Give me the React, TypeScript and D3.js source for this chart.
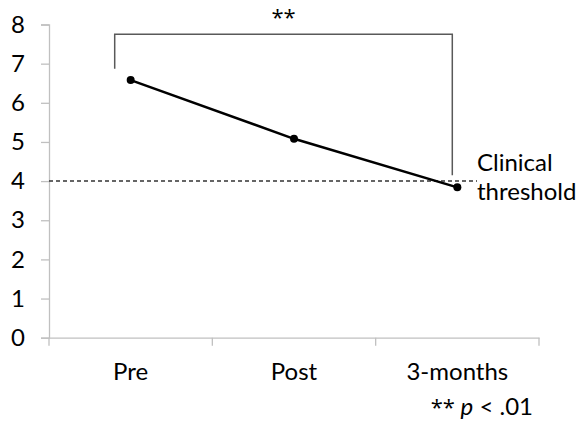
import React, { useEffect, useRef } from "react";
import * as d3 from "d3";

const categories = ["Pre", "Post", "3-months"];
const values = [6.58, 5.08, 3.84];
const yTicks = [0, 1, 2, 3, 4, 5, 6, 7, 8];
const threshold = 4;
const thresholdLabel = ["Clinical", "threshold"];
const sigLabel = "**";
const bracketY = 7.75;
const bracketLeftY = 6.87;
const bracketRightY = 4.15;

export default function App() {
  const svgRef = useRef<SVGSVGElement>(null);

  useEffect(() => {
    if (!svgRef.current) return;
    const W = 583, H = 424;
    const font = "Lato, 'Open Sans', sans-serif";
    const fs = "24px";
    const svg = d3.select(svgRef.current);
    svg.selectAll("*").remove();

    const left = 49, right = 539, top = 24.5, bottom = 337.7;

    const x = d3.scaleBand<string>().domain(categories).range([left, right]);
    const y = d3.scaleLinear().domain([0, 8]).range([bottom, top]);
    const cx = (c: string) => (x(c) || 0) + x.bandwidth() / 2;

    const axisColor = "#c0c0c0";

    // y axis
    const yAxis = svg.append("g").attr("transform", `translate(${left},0)`)
      .call(d3.axisLeft(y).tickValues(yTicks).tickSize(8).tickPadding(16).tickFormat(d3.format("d")));
    yAxis.select(".domain").attr("stroke", axisColor).attr("stroke-width", 1.3);
    yAxis.selectAll("line").attr("stroke", axisColor).attr("stroke-width", 1.3);
    yAxis.selectAll("text").attr("fill", "#000").style("font-family", font).style("font-size", fs);

    // x axis
    const xAxis = svg.append("g").attr("transform", `translate(0,${bottom})`)
      .call(d3.axisBottom(x).tickSize(0).tickSizeOuter(0).tickPadding(25));
    xAxis.select(".domain").attr("stroke", axisColor).attr("stroke-width", 1.3);
    xAxis.selectAll("text").attr("fill", "#000").style("font-family", font).style("font-size", fs);
    // boundary ticks between bands
    const bounds = [left, ...categories.map(c => (x(c) || 0) + x.bandwidth())];
    svg.append("g").selectAll("line").data(bounds).join("line")
      .attr("x1", d => d).attr("x2", d => d)
      .attr("y1", bottom).attr("y2", bottom + 8)
      .attr("stroke", axisColor).attr("stroke-width", 1.3);

    // threshold
    svg.append("line")
      .attr("x1", left).attr("x2", 477)
      .attr("y1", y(threshold)).attr("y2", y(threshold))
      .attr("stroke", "#333").attr("stroke-width", 1.5).attr("stroke-dasharray", "4,3");
    svg.append("text").attr("x", 477).attr("y", 171)
      .style("font-family", font).style("font-size", fs).attr("fill", "#000")
      .selectAll("tspan").data(thresholdLabel).join("tspan")
      .attr("x", 477).attr("dy", (_, i) => i === 0 ? 0 : 29).text(d => d);

    // bracket
    const bx1 = 114.7, bx2 = 452.3;
    svg.append("path")
      .attr("d", `M${bx1},${y(bracketLeftY)}V${y(bracketY)}H${bx2}V${y(bracketRightY)}`)
      .attr("fill", "none").attr("stroke", "#595959").attr("stroke-width", 1.5);
    svg.append("text").attr("x", (bx1 + bx2) / 2).attr("y", 25)
      .attr("text-anchor", "middle").style("font-family", "'Open Sans', sans-serif").style("font-size", "22px")
      .text(sigLabel);

    // line + dots
    const line = d3.line<number>().x((_, i) => cx(categories[i])).y(d => y(d));
    svg.append("path").datum(values).attr("d", line)
      .attr("fill", "none").attr("stroke", "#000").attr("stroke-width", 2.5);
    svg.append("g").selectAll("circle").data(values).join("circle")
      .attr("cx", (_, i) => cx(categories[i])).attr("cy", d => y(d)).attr("r", 4).attr("fill", "#000");

    // footnote
    const foot = svg.append("text").attr("x", 533).attr("y", 415).attr("text-anchor", "end")
      .style("font-family", font).style("font-size", fs).attr("fill", "#000");
    foot.append("tspan").style("font-family", "'Open Sans', sans-serif").style("font-size", "22px").text("** ");
    foot.append("tspan").style("font-style", "italic").text("p");
    foot.append("tspan").text(" < .01");

    svg.attr("width", W).attr("height", H);
  }, []);

  return (
    <div style={{ position: "fixed", left: 0, top: 0, width: 583, height: 424, background: "#fff" }}>
      <svg ref={svgRef} width={583} height={424} style={{ display: "block" }} />
    </div>
  );
}
